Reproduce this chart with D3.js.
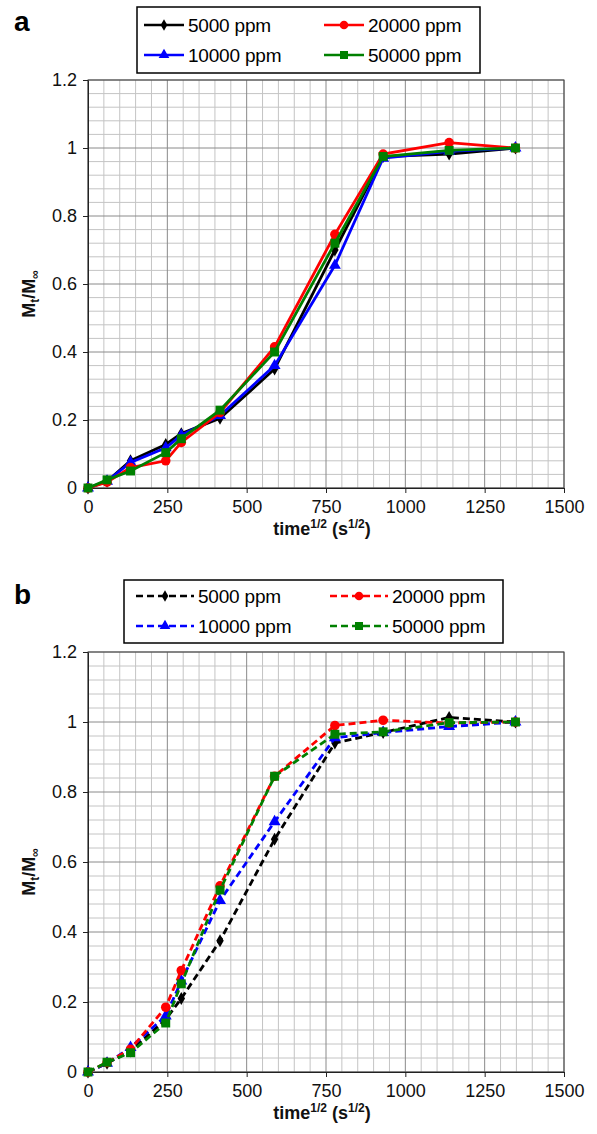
<!DOCTYPE html>
<html>
<head>
<meta charset="utf-8">
<script src="https://cdn.jsdelivr.net/npm/d3@7"></script>
<style>
  body { margin: 0; background: #fff; }
  svg { display: block; font-family: "Liberation Sans", Arial, sans-serif; }
</style>
</head>
<body>
<div id="chart"></div>
<script>
// sqrt(time) sampling points, s^1/2
const timeRoot = [0, 60, 134, 245, 294, 416, 588, 778, 930, 1138, 1347];

// panel a (solid lines)
const a5000  = [0, 0.020, 0.080, 0.128, 0.160, 0.205, 0.350, 0.700, 0.975, 0.982, 1.000];
const a10000 = [0, 0.020, 0.075, 0.118, 0.155, 0.213, 0.360, 0.655, 0.970, 0.990, 1.000];
const a20000 = [0, 0.017, 0.060, 0.080, 0.134, 0.222, 0.415, 0.746, 0.982, 1.016, 1.000];
const a50000 = [0, 0.024, 0.050, 0.104, 0.145, 0.229, 0.400, 0.720, 0.975, 0.993, 1.000];

// panel b (dashed lines)
const b5000  = [0, 0.025, 0.060, 0.150, 0.210, 0.375, 0.665, 0.940, 0.970, 1.013, 1.000];
const b10000 = [0, 0.025, 0.070, 0.160, 0.260, 0.490, 0.715, 0.955, 0.970, 0.987, 1.000];
const b20000 = [0, 0.027, 0.065, 0.185, 0.290, 0.532, 0.845, 0.990, 1.005, 0.997, 1.000];
const b50000 = [0, 0.028, 0.055, 0.140, 0.252, 0.520, 0.845, 0.965, 0.972, 0.998, 1.000];

const seriesNames = ['5000 ppm', '10000 ppm', '20000 ppm', '50000 ppm'];
const xTicks = [0, 250, 500, 750, 1000, 1250, 1500];
const yTicks = [0, 0.2, 0.4, 0.6, 0.8, 1, 1.2];

const W = 597, H = 1134;
const colors = ['#000000', '#0000ff', '#ff0000', '#008000'];
const symbols = [d3.symbolDiamond, d3.symbolTriangle, d3.symbolCircle, d3.symbolSquare];
const symSizes = [48, 62, 72, 80];

const panels = [
  { letter: 'a', series: [a5000, a10000, a20000, a50000], dashed: false,
    top: 80, bottom: 488, letterY: 31,
    legend: { x: 137, y: 7, w: 343, h: 66, cols: [144, 324], sw: 40, rows: [25, 55] } },
  { letter: 'b', series: [b5000, b10000, b20000, b50000], dashed: true,
    top: 652, bottom: 1072, letterY: 604,
    legend: { x: 124, y: 580, w: 379, h: 63, cols: [136, 330], sw: 58, rows: [596, 626] } }
];
const left = 88, right = 564;

const svg = d3.select('#chart').append('svg')
  .attr('width', W).attr('height', H);

panels.forEach(p => {
  const g = svg.append('g');
  const x = d3.scaleLinear().domain([0, 1500]).range([left, right]);
  const y = d3.scaleLinear().domain([0, 1.2]).range([p.bottom, p.top]);

  // --- grid: minor every 50 / 0.04, major at the ticks ---
  const minorX = d3.range(0, 1501, 50).filter(v => v % 250 !== 0);
  const minorY = d3.range(0, 31).map(i => i * 0.04).filter((v, i) => i % 5 !== 0);
  g.selectAll('.mx').data(minorX).join('line')
    .attr('x1', d => x(d)).attr('x2', d => x(d))
    .attr('y1', p.top).attr('y2', p.bottom)
    .attr('stroke', '#c4c4c4').attr('stroke-width', 1);
  g.selectAll('.my').data(minorY).join('line')
    .attr('x1', left).attr('x2', right)
    .attr('y1', d => y(d)).attr('y2', d => y(d))
    .attr('stroke', '#c4c4c4').attr('stroke-width', 1);
  g.selectAll('.MX').data(xTicks).join('line')
    .attr('x1', d => x(d)).attr('x2', d => x(d))
    .attr('y1', p.top).attr('y2', p.bottom)
    .attr('stroke', '#8a8a8a').attr('stroke-width', 1);
  g.selectAll('.MY').data(yTicks).join('line')
    .attr('x1', left).attr('x2', right)
    .attr('y1', d => y(d)).attr('y2', d => y(d))
    .attr('stroke', '#8a8a8a').attr('stroke-width', 1);
  g.append('rect')
    .attr('x', left).attr('y', p.top)
    .attr('width', right - left).attr('height', p.bottom - p.top)
    .attr('fill', 'none').attr('stroke', '#444').attr('stroke-width', 1);

  // --- axes ---
  const xAxis = g.append('g').attr('transform', `translate(0,${p.bottom})`)
    .call(d3.axisBottom(x).tickValues(xTicks).tickSize(5).tickPadding(7).tickSizeOuter(0)
      .tickFormat(d3.format('d')));
  const yAxis = g.append('g').attr('transform', `translate(${left},0)`)
    .call(d3.axisLeft(y).tickValues(yTicks).tickSize(5).tickPadding(6).tickSizeOuter(0)
      .tickFormat(d => String(+d.toFixed(1))));
  [xAxis, yAxis].forEach(ax => {
    ax.select('.domain').attr('stroke', '#222');
    ax.selectAll('.tick line').attr('stroke', '#222');
    ax.selectAll('.tick text').attr('fill', '#111')
      .attr('font-size', '18px').attr('font-family', '"Liberation Sans", Arial, sans-serif');
  });

  // --- axis titles ---
  const xt = g.append('text')
    .attr('x', 322).attr('y', p.bottom + 47)
    .attr('text-anchor', 'middle').attr('font-size', '18px').attr('font-weight', 'bold')
    .attr('fill', '#111');
  xt.append('tspan').text('time');
  xt.append('tspan').attr('font-size', '12px').attr('dy', -7).text('1/2');
  xt.append('tspan').attr('dy', 7).text(' (s');
  xt.append('tspan').attr('font-size', '12px').attr('dy', -7).text('1/2');
  xt.append('tspan').attr('dy', 7).text(')');

  const yt = g.append('text')
    .attr('transform', `translate(35,${(p.top + p.bottom) / 2 + 10}) rotate(-90)`)
    .attr('text-anchor', 'middle').attr('font-size', '18px').attr('font-weight', 'bold')
    .attr('fill', '#111');
  yt.append('tspan').text('M');
  yt.append('tspan').attr('font-size', '12px').attr('dy', 4).text('t');
  yt.append('tspan').attr('dy', -4).text('/M');
  yt.append('tspan').attr('font-size', '12px').attr('dy', 4).text('∞');

  // panel letter
  svg.append('text').attr('x', 14).attr('y', p.letterY)
    .attr('font-size', '28px').attr('font-weight', 'bold').attr('fill', '#000')
    .text(p.letter);

  // --- series ---
  const line = d3.line().x((d, i) => x(timeRoot[i])).y(d => y(d));
  p.series.forEach((vals, si) => {
    g.append('path').datum(vals)
      .attr('d', line)
      .attr('fill', 'none').attr('stroke', colors[si]).attr('stroke-width', 2.8)
      .attr('stroke-dasharray', p.dashed ? '7,4' : null);
    g.selectAll(null).data(vals).join('path')
      .attr('transform', (d, i) => `translate(${x(timeRoot[i])},${y(d)})`)
      .attr('d', d3.symbol(symbols[si], symSizes[si]))
      .attr('fill', colors[si]);
  });

  // --- legend: col 0 -> 5000, 10000; col 1 -> 20000, 50000 ---
  const L = p.legend;
  const lg = svg.append('g');
  lg.append('rect').attr('x', L.x).attr('y', L.y).attr('width', L.w).attr('height', L.h)
    .attr('fill', '#fff').attr('stroke', '#000').attr('stroke-width', 1.5);
  seriesNames.forEach((name, si) => {
    const colX = L.cols[si < 2 ? 0 : 1];
    const cy = L.rows[si % 2];
    lg.append('line')
      .attr('x1', colX).attr('x2', colX + L.sw)
      .attr('y1', cy).attr('y2', cy)
      .attr('stroke', colors[si]).attr('stroke-width', 2.6)
      .attr('stroke-dasharray', p.dashed ? '7,4' : null);
    lg.append('path')
      .attr('transform', `translate(${colX + L.sw / 2},${cy})`)
      .attr('d', d3.symbol(symbols[si], symSizes[si] * 0.8))
      .attr('fill', colors[si]);
    lg.append('text')
      .attr('x', colX + L.sw + 4).attr('y', cy + 7)
      .attr('font-size', '19px').attr('fill', '#000')
      .attr('letter-spacing', '-0.2px')
      .text(name);
  });
});
</script>
</body>
</html>
